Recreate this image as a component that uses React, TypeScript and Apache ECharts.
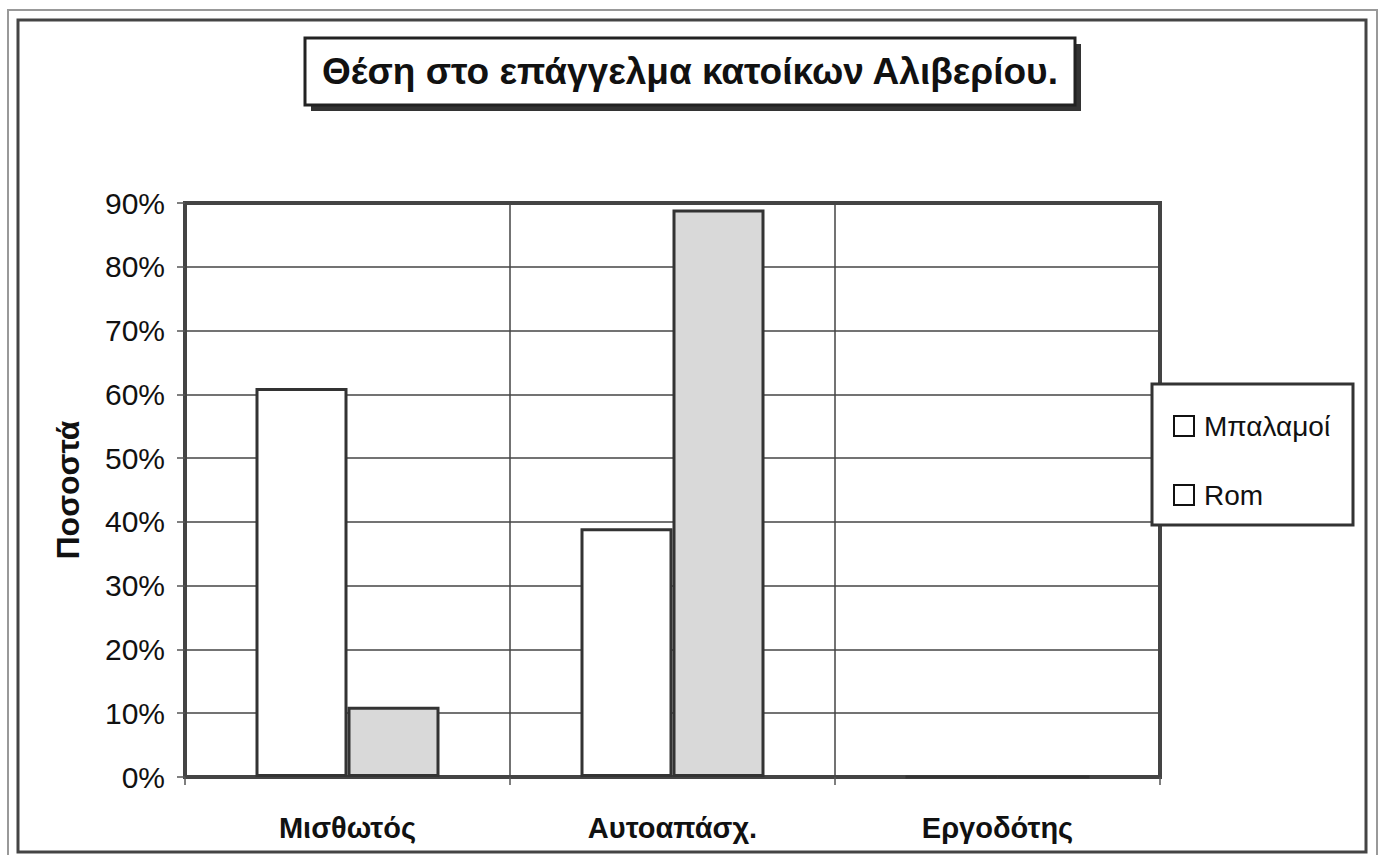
import React, { useEffect, useRef } from "react";
import * as echarts from "echarts";

const categories = ["Μισθωτός", "Αυτοαπάσχ.", "Εργοδότης"];
const seriesNames = ["Μπαλαμοί", "Rom"];
const balamoiValues = [0.61, 0.39, 0];
const romValues = [0.11, 0.89, 0];
const titleText = "Θέση στο επάγγελμα κατοίκων Αλιβερίου.";
const yAxisName = "Ποσοστά";

const FONT = "'Liberation Sans', Arial, sans-serif";

export default function App() {
  const ref = useRef<HTMLDivElement>(null);
  useEffect(() => {
    document.body.style.margin = "0";
    const chart = echarts.init(ref.current!, null, { renderer: "svg" });
    chart.setOption({
      animation: false,
      backgroundColor: "#ffffff",
      textStyle: { fontFamily: FONT, color: "#111" },
      graphic: [
        { type: "rect", shape: { x: 8, y: 10, width: 1369, height: 860 }, style: { fill: "none", stroke: "#999", lineWidth: 2 }, z: 0 },
        { type: "rect", shape: { x: 18, y: 20, width: 1348, height: 832 }, style: { fill: "none", stroke: "#444", lineWidth: 3 }, z: 0 },
        { type: "rect", shape: { x: 311, y: 44, width: 770, height: 67 }, style: { fill: "#333" }, z: 1 },
        { type: "rect", shape: { x: 305, y: 38, width: 770, height: 67 }, style: { fill: "#fff", stroke: "#222", lineWidth: 3 }, z: 2 },
        { type: "rect", shape: { x: 1152, y: 384, width: 201, height: 141 }, style: { fill: "#fff", stroke: "#333", lineWidth: 3 }, z: 2 },
      ],
      title: {
        text: titleText,
        left: 690,
        textAlign: "center",
        top: 53,
        padding: 0,
        z: 10,
        textStyle: { fontFamily: FONT, fontSize: 37, fontWeight: "bold", color: "#111" },
      },
      legend: {
        orient: "vertical",
        left: 1168,
        top: 406,
        itemWidth: 20,
        itemHeight: 20,
        itemGap: 39,
        icon: "rect",
        z: 10,
        data: seriesNames,
        itemStyle: { color: "#fff", borderColor: "#111", borderWidth: 2 },
        textStyle: { fontFamily: FONT, fontSize: 28, lineHeight: 30, color: "#111", padding: [0, 0, 0, 5] },
      },
      grid: {
        left: 185,
        top: 203,
        right: 222,
        bottom: 78,
        show: true,
        borderColor: "#444",
        borderWidth: 4,
        backgroundColor: "#fff",
        containLabel: false,
      },
      xAxis: {
        type: "category",
        data: categories,
        axisLine: { show: false },
        axisTick: { show: true, length: 8, lineStyle: { color: "#555", width: 1.5 } },
        splitLine: { show: true, lineStyle: { color: "#444", width: 1.5 } },
        axisLabel: { margin: 36, fontFamily: FONT, fontSize: 29, fontWeight: "bold", color: "#111" },
      },
      yAxis: {
        type: "value",
        min: 0,
        max: 0.9,
        interval: 0.1,
        name: yAxisName,
        nameLocation: "middle",
        nameRotate: 90,
        nameGap: 101,
        nameTextStyle: { fontFamily: FONT, fontSize: 32, fontWeight: "bold", color: "#111" },
        axisLine: { show: false },
        axisTick: { show: true, length: 8, lineStyle: { color: "#555", width: 1.5 } },
        splitLine: { show: true, lineStyle: { color: "#444", width: 1.5 } },
        axisLabel: {
          margin: 20,
          fontFamily: FONT,
          fontSize: 30,
          color: "#111",
          formatter: (v: number) => Math.round(v * 100) + "%",
        },
      },
      series: [
        {
          name: seriesNames[0],
          type: "bar",
          data: balamoiValues,
          barWidth: 92,
          barGap: "0%",
          itemStyle: { color: "#ffffff", borderColor: "#333", borderWidth: 3 },
        },
        {
          name: seriesNames[1],
          type: "bar",
          data: romValues,
          barWidth: 92,
          barGap: "0%",
          itemStyle: { color: "#d9d9d9", borderColor: "#333", borderWidth: 3 },
        },
      ],
    });
    return () => chart.dispose();
  }, []);
  return <div ref={ref} style={{ position: "absolute", left: 0, top: 0, width: 1382, height: 855 }} />;
}
